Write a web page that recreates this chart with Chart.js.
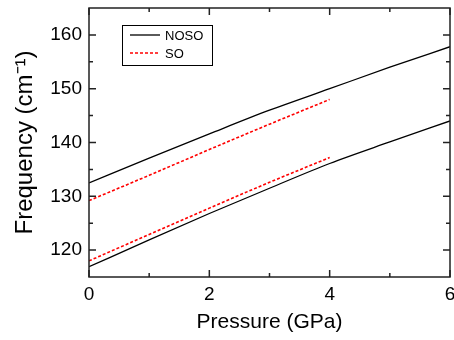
<!DOCTYPE html>
<html>
<head>
<meta charset="utf-8">
<script src="https://cdn.jsdelivr.net/npm/chart.js@4/dist/chart.umd.min.js"></script>
<style>
  body { margin: 0; background: #fff; }
  #wrap { width: 454px; height: 340px; }
</style>
</head>
<body>
<div id="wrap"><canvas id="myChart" width="454" height="340"></canvas></div>
<script>
// values
const pressure = [0, 1, 2, 3, 4, 5, 6];
const nosoUpper = [132.5, 137.1, 141.6, 146.0, 150.0, 154.0, 157.8];
const nosoLower = [116.9, 121.9, 126.8, 131.5, 136.1, 140.1, 144.0];
const soPressure = [0, 1, 2, 3, 4];
const soUpper = [129.2, 133.9, 138.7, 143.4, 148.0];
const soLower = [118.0, 122.9, 127.8, 132.6, 137.2];

const xTicks = [0, 2, 4, 6];
const xMinor = [1, 3, 5];
const yTicks = [120, 130, 140, 150, 160];
const yMinor = [125, 135, 145, 155];

const FONT = '"Liberation Sans", Arial, sans-serif';
const pts = (xs, ys) => xs.map((x, i) => ({ x, y: ys[i] }));

const noso = { borderColor: '#000', borderWidth: 1.3, pointRadius: 0, cubicInterpolationMode: 'monotone', fill: false };
const so = { borderColor: '#ff0000', borderWidth: 1.6, borderDash: [3, 2], pointRadius: 0, cubicInterpolationMode: 'monotone', fill: false };

// frame, inward ticks on all four sides, and the boxed legend
const framePlugin = {
  id: 'frame',
  afterDraw(chart) {
    const { ctx, chartArea: a, scales: { x, y } } = chart;
    ctx.save();
    ctx.strokeStyle = '#222';
    ctx.lineWidth = 1.5;
    ctx.strokeRect(a.left, a.top, a.right - a.left, a.bottom - a.top);
    ctx.beginPath();
    const tx = (v, len) => {
      const px = x.getPixelForValue(v);
      ctx.moveTo(px, a.bottom); ctx.lineTo(px, a.bottom - len);
      ctx.moveTo(px, a.top); ctx.lineTo(px, a.top + len);
    };
    const ty = (v, len) => {
      const py = y.getPixelForValue(v);
      ctx.moveTo(a.left, py); ctx.lineTo(a.left + len, py);
      ctx.moveTo(a.right, py); ctx.lineTo(a.right - len, py);
    };
    xTicks.forEach(v => tx(v, 7));
    xMinor.forEach(v => tx(v, 4));
    yTicks.forEach(v => ty(v, 7));
    yMinor.forEach(v => ty(v, 4));
    ctx.stroke();

    // legend
    ctx.lineWidth = 1;
    ctx.strokeStyle = '#000';
    ctx.strokeRect(122.5, 25.5, 90, 40);
    const items = [chart.data.datasets[0], chart.data.datasets[2]];
    items.forEach((ds, i) => {
      const ly = 35 + i * 18;
      ctx.beginPath();
      ctx.strokeStyle = ds.borderColor;
      ctx.lineWidth = ds.borderWidth;
      ctx.setLineDash(ds.borderDash || []);
      ctx.moveTo(130, ly); ctx.lineTo(160, ly);
      ctx.stroke();
      ctx.setLineDash([]);
      ctx.fillStyle = '#000';
      ctx.font = '13px ' + FONT;
      ctx.textBaseline = 'middle';
      ctx.fillText(ds.label, 165, ly + 1);
    });
    ctx.restore();
  }
};

new Chart(document.getElementById('myChart'), {
  type: 'line',
  data: {
    datasets: [
      { label: 'NOSO', data: pts(pressure, nosoUpper), ...noso },
      { label: 'NOSO', data: pts(pressure, nosoLower), ...noso },
      { label: 'SO', data: pts(soPressure, soUpper), ...so },
      { label: 'SO', data: pts(soPressure, soLower), ...so }
    ]
  },
  options: {
    responsive: false,
    animation: false,
    layout: { padding: { top: 8, right: 4, left: 0, bottom: 0 } },
    scales: {
      x: {
        type: 'linear',
        min: 0, max: 6,
        grid: { display: false, drawTicks: false },
        border: { display: false },
        afterBuildTicks: s => { s.ticks = xTicks.map(v => ({ value: v })); },
        afterFit: s => { s.height = 63; s.paddingLeft = 0; s.paddingRight = 0; },
        ticks: { color: '#000', padding: 6, maxRotation: 0, font: { family: FONT, size: 19 } },
        title: { display: true, text: 'Pressure (GPa)', color: '#000', padding: { top: 0, bottom: 5 }, font: { family: FONT, size: 21 } }
      },
      y: {
        min: 115, max: 165,
        grid: { display: false, drawTicks: false },
        border: { display: false },
        afterBuildTicks: s => { s.ticks = yTicks.map(v => ({ value: v })); },
        afterFit: s => { s.width = 89; s.paddingTop = 0; s.paddingBottom = 0; },
        ticks: { color: '#000', padding: 7, font: { family: FONT, size: 19 } },
        title: { display: true, text: 'Frequency (cm\u207B\u00B9)', color: '#000', padding: { top: 11, bottom: 0 }, font: { family: FONT, size: 24 } }
      }
    },
    plugins: {
      legend: { display: false },
      tooltip: { enabled: false }
    }
  },
  plugins: [framePlugin]
});
</script>
</body>
</html>
